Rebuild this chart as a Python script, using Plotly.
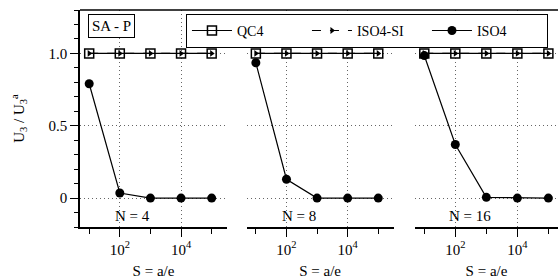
import plotly.graph_objects as go

S = [10, 100, 1000, 10000, 100000]
panels = ["N = 4", "N = 8", "N = 16"]
qc4 = [[1.0, 1.0, 1.0, 1.0, 1.0]] * 3
iso4_si = [[1.0, 1.0, 1.0, 1.0, 1.0]] * 3
iso4 = [
    [0.79, 0.035, 0.0, 0.0, 0.0],
    [0.935, 0.13, 0.0, 0.0, 0.0],
    [0.985, 0.37, 0.005, 0.0, 0.0],
]
xtick_vals = [100, 10000]
xtick_text = ["10<sup>2</sup>", "10<sup>4</sup>"]
ytick_vals = [0, 0.5, 1.0]
ytick_text = ["0", "0.5", "1.0"]

FONT = "Liberation Serif, Times New Roman, serif"
GRID = "#666"
fig = go.Figure()

domains = [[0.0, 0.3075], [0.3487, 0.656], [0.7008, 1.0]]
xranges = [[0.7, 5.5], [0.7, 5.5], [0.7, 5.31]]

for i in range(3):
    xa = "x" if i == 0 else f"x{i+1}"
    ya = "y" if i == 0 else f"y{i+1}"
    sl = i == 0
    fig.add_trace(go.Scatter(
        x=S, y=qc4[i], name="QC4", mode="lines+markers", xaxis=xa, yaxis=ya,
        line=dict(color="black", width=1.2),
        marker=dict(symbol="square-open", size=9, color="black", line=dict(width=1.5)),
        showlegend=sl, legendrank=1))
    fig.add_trace(go.Scatter(
        x=S, y=iso4_si[i], name="ISO4-SI", mode="lines+markers", xaxis=xa, yaxis=ya,
        line=dict(color="black", width=1.2, dash="dash"),
        marker=dict(symbol="triangle-right", size=6, color="black"),
        showlegend=sl, legendrank=2))
    fig.add_trace(go.Scatter(
        x=S, y=iso4[i], name="ISO4", mode="lines+markers", xaxis=xa, yaxis=ya,
        line=dict(color="black", width=1.2),
        marker=dict(symbol="circle", size=9, color="black"),
        showlegend=sl, legendrank=3))

layout = dict(
    width=558, height=280,
    margin=dict(l=80, r=0, t=10, b=53, autoexpand=False),
    paper_bgcolor="white", plot_bgcolor="white",
    font=dict(family=FONT, size=15, color="black"),
    showlegend=True,
    legend=dict(orientation="h", x=0.979, y=0.982, xanchor="right", yanchor="top",
                bordercolor="black", borderwidth=1, bgcolor="white",
                font=dict(family=FONT, size=14), entrywidth=65, itemwidth=40,
                tracegroupgap=0),
)

for i in range(3):
    key = "" if i == 0 else str(i + 1)
    layout["xaxis" + key] = dict(
        type="log", domain=domains[i], range=xranges[i], anchor="y" + key,
        tickvals=xtick_vals, ticktext=xtick_text, ticks="outside", ticklen=8,
        tickwidth=1.2, tickcolor="black",
        minor=dict(tickvals=[10, 1000, 100000], ticks="outside", ticklen=5,
                   tickwidth=1.2, tickcolor="black", showgrid=False),
        showline=True, linecolor="black", linewidth=1.5,
        showgrid=True, gridcolor=GRID, griddash="1px,3px", gridwidth=1,
        zeroline=False, tickfont=dict(size=15), automargin=False,
        title=dict(text="S = a/e", font=dict(size=15), standoff=9),
    )
    layout["yaxis" + key] = dict(
        domain=[0, 1], range=[-0.2, 1.3], anchor="x" + key,
        tickvals=ytick_vals, ticktext=ytick_text,
        showgrid=True, gridcolor=GRID, griddash="1px,3px", gridwidth=1,
        zeroline=False, automargin=False,
        showline=(i == 0), linecolor="black", linewidth=1.5,
        ticks="outside" if i == 0 else "", ticklen=8, tickwidth=1.2, tickcolor="black",
        showticklabels=(i == 0), tickfont=dict(size=15),
    )
    if i == 0:
        layout["yaxis"]["minor"] = dict(dtick=0.1, ticks="outside", ticklen=4,
                                        tickwidth=1.2, tickcolor="black", showgrid=False)
        layout["yaxis"]["title"] = dict(text="U<sub>3</sub> / U<sub>3</sub><sup>a</sup>",
                                        font=dict(size=15), standoff=20)

fig.update_layout(**layout)

ann = []
for i, t in enumerate(panels):
    key = "" if i == 0 else str(i + 1)
    ann.append(dict(text=t, xref="x" + key + " domain", yref="y" + key, x=0.224, y=-0.125,
                    xanchor="left", yanchor="middle", showarrow=False,
                    font=dict(size=15)))
ann.append(dict(text="SA - P", xref="paper", yref="paper", x=0.0167, y=0.982,
                xanchor="left", yanchor="top", showarrow=False,
                bordercolor="black", borderwidth=1, borderpad=3, bgcolor="white",
                font=dict(size=15)))
fig.update_layout(annotations=ann)
fig.add_shape(type="line", xref="paper", yref="paper", x0=0, x1=1, y0=1, y1=1,
              line=dict(color="black", width=1.5))

fig.write_html("out.html", config={"displayModeBar": False},
               post_script="document.body.style.margin='0';document.body.style.overflow='hidden';")
